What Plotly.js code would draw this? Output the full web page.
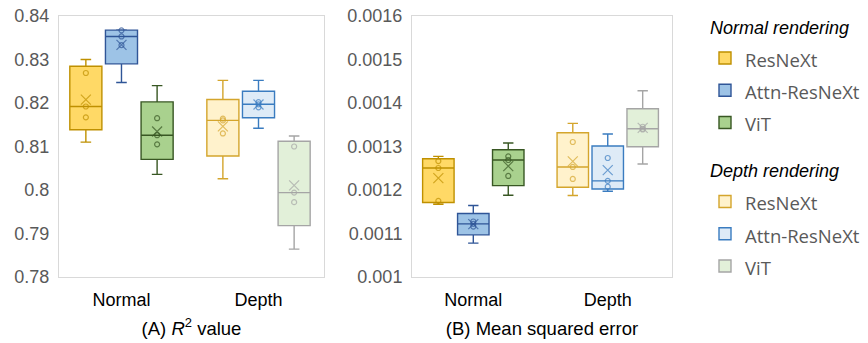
<!DOCTYPE html>
<html>
<head>
<meta charset="utf-8">
<script src="https://cdn.plot.ly/plotly-3.0.1.min.js"></script>
<style>html,body{margin:0;padding:0;background:#fff;}</style>
</head>
<body>
<div id="chart" style="width:868px;height:343px;"></div>
<script>
// ---- data ----
const categories = ['Normal', 'Depth'];
const models = ['ResNeXt', 'Attn-ResNeXt', 'ViT'];
const renderings = ['Normal rendering', 'Depth rendering'];

// (A) R^2 value, five runs per model
const r2NormalResNeXt = [0.8110, 0.8167, 0.8192, 0.8269, 0.8300];
const r2NormalAttn    = [0.8247, 0.8333, 0.8353, 0.8367, 0.8368];
const r2NormalViT     = [0.8036, 0.8105, 0.8126, 0.8165, 0.8240];
const r2DepthResNeXt  = [0.8026, 0.8130, 0.8160, 0.8164, 0.8252];
const r2DepthAttn     = [0.8142, 0.8190, 0.8197, 0.8202, 0.8252];
const r2DepthViT      = [0.7864, 0.7972, 0.7994, 0.8100, 0.8124];

// (B) Mean squared error, five runs per model
const mseNormalResNeXt = [0.0011673, 0.0011750, 0.0012506, 0.0012666, 0.0012774];
const mseNormalAttn    = [0.0010778, 0.0011160, 0.0011222, 0.0011276, 0.0011642];
const mseNormalViT     = [0.0011879, 0.0012323, 0.0012690, 0.0012774, 0.0013080];
const mseDepthResNeXt  = [0.0011872, 0.0012254, 0.0012530, 0.0013103, 0.0013531];
const mseDepthAttn     = [0.0011971, 0.0012077, 0.0012210, 0.0012736, 0.0013286];
const mseDepthViT      = [0.0012598, 0.0013392, 0.0013408, 0.0013454, 0.0014280];

const r2Ticks  = [0.78, 0.79, 0.80, 0.81, 0.82, 0.83, 0.84];
const r2TickText = ['0.78', '0.79', '0.8', '0.81', '0.82', '0.83', '0.84'];
const mseTicks = [0.0010, 0.0011, 0.0012, 0.0013, 0.0014, 0.0015, 0.0016];
const mseTickText = ['0.001', '0.0011', '0.0012', '0.0013', '0.0014', '0.0015', '0.0016'];

// ---- styles ----
const lineColors = [['#BF9000', '#2F5597', '#385723'], ['#D4A52C', '#3A7CC0', '#A5A5A5']];
const fillColors = [['#FFD966', '#9DC3E6', '#A9D18E'], ['#FFF2CC', '#DEEBF7', '#E2F0D9']];

function mean(a) { return a.reduce((s, v) => s + v, 0) / a.length; }
function innerPoints(a) { const s = a.slice().sort((p, q) => p - q); return s.slice(1, -1); }

const traces = [];
function addSet(data, r, m, xa, ya, showLegend) {
  const cat = categories[r];
  const color = lineColors[r][m];
  const box = {
    type: 'box', x: data.map(() => cat), y: data, xaxis: xa, yaxis: ya,
    offsetgroup: 'g' + m,
    name: '<span style="font-size:18.5px">' + models[m] + '</span>',
    showlegend: showLegend,
    boxpoints: false, quartilemethod: 'exclusive',
    fillcolor: fillColors[r][m], line: {color: color, width: 1.4},
    whiskerwidth: 0.33, hoverinfo: 'skip'
  };
  if (showLegend) {
    box.legendgroup = 'r' + r;
    box.legendgrouptitle = {
      text: '<span style="font-size:18px">' + renderings[r] + '</span>',
      font: {size: 26, style: 'italic', color: '#000', family: 'Liberation Sans, Arial, sans-serif'}
    };
  }
  traces.push(box);
  const inner = innerPoints(data);
  const pts = inner.concat([mean(data)]);
  traces.push({
    type: 'scatter', mode: 'markers', x: pts.map(() => cat), y: pts, xaxis: xa, yaxis: ya,
    offsetgroup: 'g' + m, showlegend: false, hoverinfo: 'skip',
    marker: {
      symbol: inner.map(() => 'circle-open').concat(['x-thin-open']),
      size: inner.map(() => 5).concat([10]),
      color: color, line: {color: color, width: 1.2}
    }
  });
}

const r2Sets = [[r2NormalResNeXt, r2NormalAttn, r2NormalViT], [r2DepthResNeXt, r2DepthAttn, r2DepthViT]];
const mseSets = [[mseNormalResNeXt, mseNormalAttn, mseNormalViT], [mseDepthResNeXt, mseDepthAttn, mseDepthViT]];
for (let r = 0; r < 2; r++) for (let m = 0; m < 3; m++) addSet(r2Sets[r][m], r, m, 'x', 'y', true);
for (let r = 0; r < 2; r++) for (let m = 0; m < 3; m++) addSet(mseSets[r][m], r, m, 'x2', 'y2', false);

const frame = {showline: true, mirror: true, linecolor: '#D9D9D9', linewidth: 1, ticks: '', showgrid: false, zeroline: false};
const xCommon = Object.assign({}, frame, {
  type: 'category', categoryorder: 'array', categoryarray: categories,
  range: [-0.456, 1.478], tickfont: {size: 18, color: '#000'}, ticklabelstandoff: 6, automargin: false
});
const yCommon = Object.assign({}, frame, {tickfont: {size: 18, color: '#595959'}, ticklabelstandoff: 5, automargin: false, tickmode: 'array'});

const layout = {
  width: 868, height: 343,
  margin: {l: 0, r: 0, t: 13, b: 66},
  paper_bgcolor: '#fff', plot_bgcolor: '#fff',
  font: {family: 'Liberation Sans, Arial, sans-serif', color: '#595959'},
  boxmode: 'group', boxgap: 0.22, boxgroupgap: 0.1,
  scattermode: 'group', scattergap: 0.22,
  xaxis: Object.assign({}, xCommon, {domain: [59 / 868, 324 / 868], anchor: 'y',
    title: {text: '(A) <i>R</i><sup>2</sup> value', font: {size: 18.5, color: '#000'}, standoff: 13}}),
  yaxis: Object.assign({}, yCommon, {domain: [0, 1], anchor: 'x', range: [0.78, 0.84], tickvals: r2Ticks, ticktext: r2TickText}),
  xaxis2: Object.assign({}, xCommon, {domain: [412 / 868, 672 / 868], anchor: 'y2',
    title: {text: '(B) Mean squared error', font: {size: 18.5, color: '#000'}, standoff: 13}}),
  yaxis2: Object.assign({}, yCommon, {domain: [0, 1], anchor: 'x2', range: [0.001, 0.0016], tickvals: mseTicks, ticktext: mseTickText}),
  legend: {
    x: 705 / 868, xanchor: 'left', y: 1.062, yanchor: 'top', maxheight: 340,
    font: {size: 22.5, family: 'Open Sans, Noto Sans, sans-serif', color: '#595959'},
    traceorder: 'grouped', tracegroupgap: 10, bgcolor: 'rgba(0,0,0,0)'
  },
  showlegend: true
};

Plotly.newPlot('chart', traces, layout, {displayModeBar: false, staticPlot: true});
</script>
</body>
</html>
